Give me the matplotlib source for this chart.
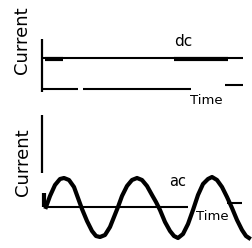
import matplotlib.pyplot as plt
import numpy as np

# top panel: dc current (pixel coordinates)
dc_x = [42, 243]
dc_y = [58, 58]
dc_thick_x = [[45, 63], [174, 228]]
dc_axis_x = [[42, 78], [83, 191], [225, 243]]
dc_axis_y = [89, 89, 85]

# bottom panel: ac current, points read along the wave
ac_x = [46, 50, 55, 60, 64, 69, 74, 78, 82, 87, 92, 96, 100, 105, 110, 114,
        118, 122, 127, 132, 137, 142, 147, 152, 156, 160, 165, 170, 174, 178,
        183, 188, 193, 198, 203, 208, 212, 217, 222, 227, 232, 237, 242, 246, 249]
ac_y = [207, 196, 185, 179, 178, 180, 187, 198, 209, 221, 231, 236, 237, 235, 227, 217,
        207, 196, 186, 180, 178, 180, 186, 195, 202, 210, 222, 231, 236, 238,
        234, 224, 210, 195, 184, 179, 177, 180, 187, 197, 208, 220, 230, 236, 238]
ac_axis_x = [[45, 188], [227, 242]]
ac_axis_y = [207, 203]

fig = plt.figure(figsize=(2.53, 2.48), dpi=100)
ax = fig.add_axes([0, 0, 1, 1])
ax.set_xlim(0, 253)
ax.set_ylim(248, 0)
ax.axis('off')

k = dict(color='black', solid_capstyle='butt')

# top
ax.plot([42, 42], [39, 92], lw=1.6, **k)
ax.plot(dc_x, dc_y, lw=1.5, **k)
for seg in dc_thick_x:
    ax.plot(seg, [59, 59], lw=3, **k)
for seg, yy in zip(dc_axis_x, dc_axis_y):
    ax.plot(seg, [yy, yy], lw=1.5, **k)
ax.text(22, 40, 'Current', rotation=90, ha='center', va='center', fontsize=13)
ax.text(183, 41, 'dc', ha='center', va='center', fontsize=11)
ax.text(206, 101, 'Time', ha='center', va='center', fontsize=9.5)

# bottom
ax.plot([42, 42], [115, 173], lw=1.6, **k)
ax.plot([44, 44], [193, 207], lw=3, **k)
for seg, yy in zip(ac_axis_x, ac_axis_y):
    ax.plot(seg, [yy, yy], lw=1.5, **k)
ax.plot(ac_x, ac_y, lw=3, color='black', solid_joinstyle='round')
ax.text(23, 162, 'Current', rotation=90, ha='center', va='center', fontsize=13)
ax.text(178, 181, 'ac', ha='center', va='center', fontsize=10.5)
ax.text(212, 217, 'Time', ha='center', va='center', fontsize=9.5)

plt.savefig('out.png', dpi=100)
